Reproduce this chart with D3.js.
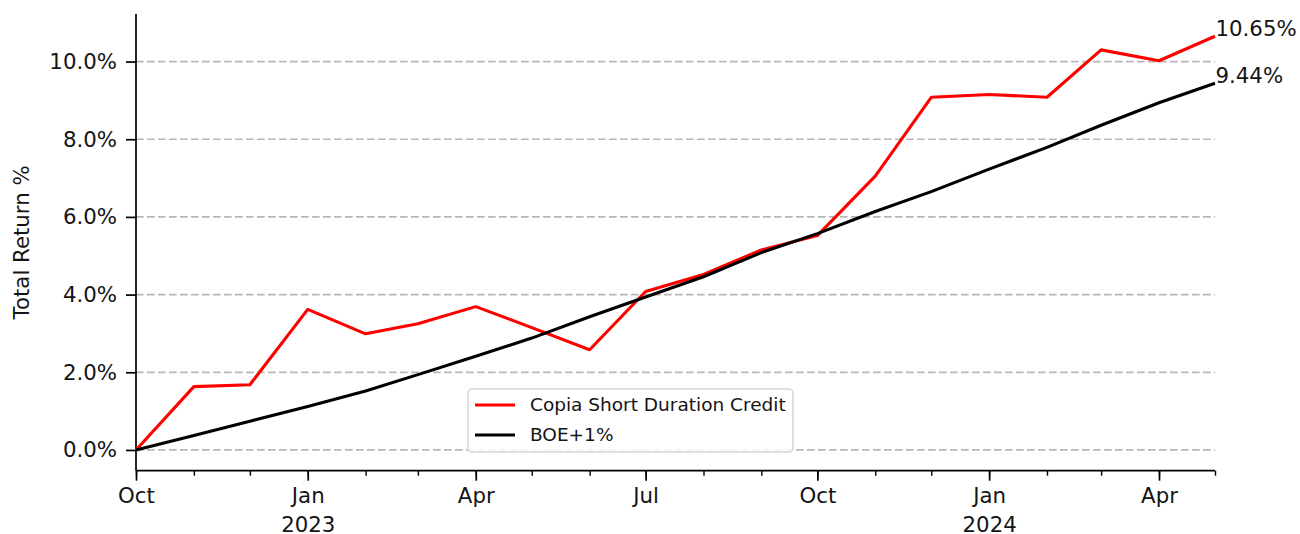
<!DOCTYPE html>
<html>
<head>
<meta charset="utf-8">
<script src="https://cdn.jsdelivr.net/npm/d3@7"></script>
<style>
  body { margin: 0; background: #fff; }
  text { font-family: "DejaVu Sans", sans-serif; fill: #141414; }
</style>
</head>
<body>
<div id="plot"></div>
<script>
// monthly points, Oct 2022 .. May 2024
const months = ["2022-10-01", "2022-11-01", "2022-12-01", "2023-01-01", "2023-02-01",
  "2023-03-01", "2023-04-01", "2023-05-01", "2023-06-01", "2023-07-01", "2023-08-01",
  "2023-09-01", "2023-10-01", "2023-11-01", "2023-12-01", "2024-01-01", "2024-02-01",
  "2024-03-01", "2024-04-01", "2024-05-01"];
const copia = [0, 1.63, 1.68, 3.62, 2.99, 3.25, 3.69, 3.15, 2.58, 4.08, 4.52,
  5.15, 5.52, 7.05, 9.08, 9.15, 9.08, 10.30, 10.02, 10.65];
const boe = [0, 0.37, 0.74, 1.12, 1.52, 1.94, 2.41, 2.88, 3.43, 3.94, 4.46,
  5.08, 5.57, 6.14, 6.65, 7.23, 7.79, 8.36, 8.94, 9.44];
const yTicks = [0, 2, 4, 6, 8, 10];
const seriesNames = ["Copia Short Duration Credit", "BOE+1%"];
const seriesColors = ["#ff0000", "#000000"];

const w = 1300;
const h = 534;
const margin = { top: 14, right: 85, bottom: 63.3, left: 136 };
const innerWidth = w - margin.left - margin.right;
const innerHeight = h - margin.top - margin.bottom;
const fs = "21.3px";

const parse = d3.timeParse("%Y-%m-%d");
const dates = months.map(parse);

const svg = d3.select("div#plot")
    .append("svg")
    .attr("width", w)
    .attr("height", h);

const g = svg.append("g")
    .attr("transform", `translate(${margin.left}, ${margin.top})`);

const xScale = d3.scaleTime()
    .domain([dates[0], dates[dates.length - 1]])
    .range([0, innerWidth]);

const yScale = d3.scaleLinear()
    .domain([-0.534, 11.224])
    .range([innerHeight, 0]);

// dashed horizontal grid
g.selectAll(".grid")
    .data(yTicks)
    .enter()
    .append("line")
    .attr("class", "grid")
    .attr("x1", 0)
    .attr("x2", innerWidth)
    .attr("y1", d => yScale(d))
    .attr("y2", d => yScale(d))
    .attr("stroke", "#b8b8b8")
    .attr("stroke-width", 1.7)
    .attr("stroke-dasharray", "7.7,3.3");

// y axis
const yAxis = d3.axisLeft(yScale)
    .tickValues(yTicks)
    .tickSize(10)
    .tickPadding(9)
    .tickFormat(d => d.toFixed(1) + "%");

g.append("g")
    .attr("class", "yAxis")
    .call(yAxis)
    .call(a => a.select(".domain").attr("d", `M0,0V${innerHeight}`).attr("stroke-width", 1.7))
    .call(a => a.selectAll(".tick line").attr("stroke-width", 1.7))
    .call(a => a.selectAll("text").style("font-size", fs));

// x axis: quarterly labels, monthly minor ticks
const majors = d3.timeMonth.every(3).range(dates[0], d3.timeDay.offset(dates[dates.length - 1], 1));

g.append("g")
    .attr("class", "xMinor")
    .attr("transform", `translate(0, ${innerHeight})`)
    .call(d3.axisBottom(xScale).tickValues(dates).tickSize(5).tickFormat(""))
    .call(a => a.select(".domain").attr("d", `M0,0H${innerWidth}`).attr("stroke-width", 1.7))
    .call(a => a.selectAll(".tick line").attr("stroke-width", 1.4))
    .call(a => a.selectAll(".tick text").remove());

const xAxis = g.append("g")
    .attr("class", "xAxis")
    .attr("transform", `translate(0, ${innerHeight})`)
    .call(d3.axisBottom(xScale).tickValues(majors).tickSize(10).tickFormat(""))
    .call(a => a.select(".domain").remove())
    .call(a => a.selectAll(".tick line").attr("stroke-width", 1.7))
    .call(a => a.selectAll(".tick text").remove());

xAxis.selectAll(".tick")
    .append("text")
    .attr("text-anchor", "middle")
    .style("font-size", fs)
    .each(function(d) {
      const t = d3.select(this);
      t.append("tspan").attr("x", 0).attr("y", 32).text(d3.timeFormat("%b")(d));
      if (d.getMonth() === 0) {
        t.append("tspan").attr("x", 0).attr("y", 61.5).text(d.getFullYear());
      }
    });

// y label
svg.append("text")
    .attr("transform", `translate(29, ${margin.top + innerHeight / 2}) rotate(-90)`)
    .attr("text-anchor", "middle")
    .style("font-size", fs)
    .text("Total Return %");

// lines
const line = d3.line()
    .x((d, i) => xScale(dates[i]))
    .y(d => yScale(d));

[copia, boe].forEach((vals, k) => {
  g.append("path")
      .datum(vals)
      .attr("fill", "none")
      .attr("stroke", seriesColors[k])
      .attr("stroke-width", 3.1)
      .attr("stroke-linejoin", "round")
      .attr("d", line);

  // end value annotation, baseline at the last point
  const last = vals[vals.length - 1];
  g.append("text")
      .attr("x", xScale(dates[dates.length - 1]) + 0.5)
      .attr("y", yScale(last))
      .style("font-size", fs)
      .text(last.toFixed(2) + "%");
});

// legend
const legend = svg.append("g")
    .attr("transform", "translate(468, 389)");

legend.append("rect")
    .attr("width", 325)
    .attr("height", 63)
    .attr("rx", 4)
    .attr("fill", "#fff")
    .attr("fill-opacity", 0.85)
    .attr("stroke", "#d6d6d6")
    .attr("stroke-width", 1.5);

seriesNames.forEach((name, k) => {
  const yy = 16 + k * 30;
  legend.append("line")
      .attr("x1", 7).attr("x2", 47)
      .attr("y1", yy).attr("y2", yy)
      .attr("stroke", seriesColors[k])
      .attr("stroke-width", 3.1);
  legend.append("text")
      .attr("x", 62)
      .attr("y", yy)
      .attr("dy", "0.35em")
      .style("font-size", "18.5px")
      .text(name);
});
</script>
</body>
</html>
